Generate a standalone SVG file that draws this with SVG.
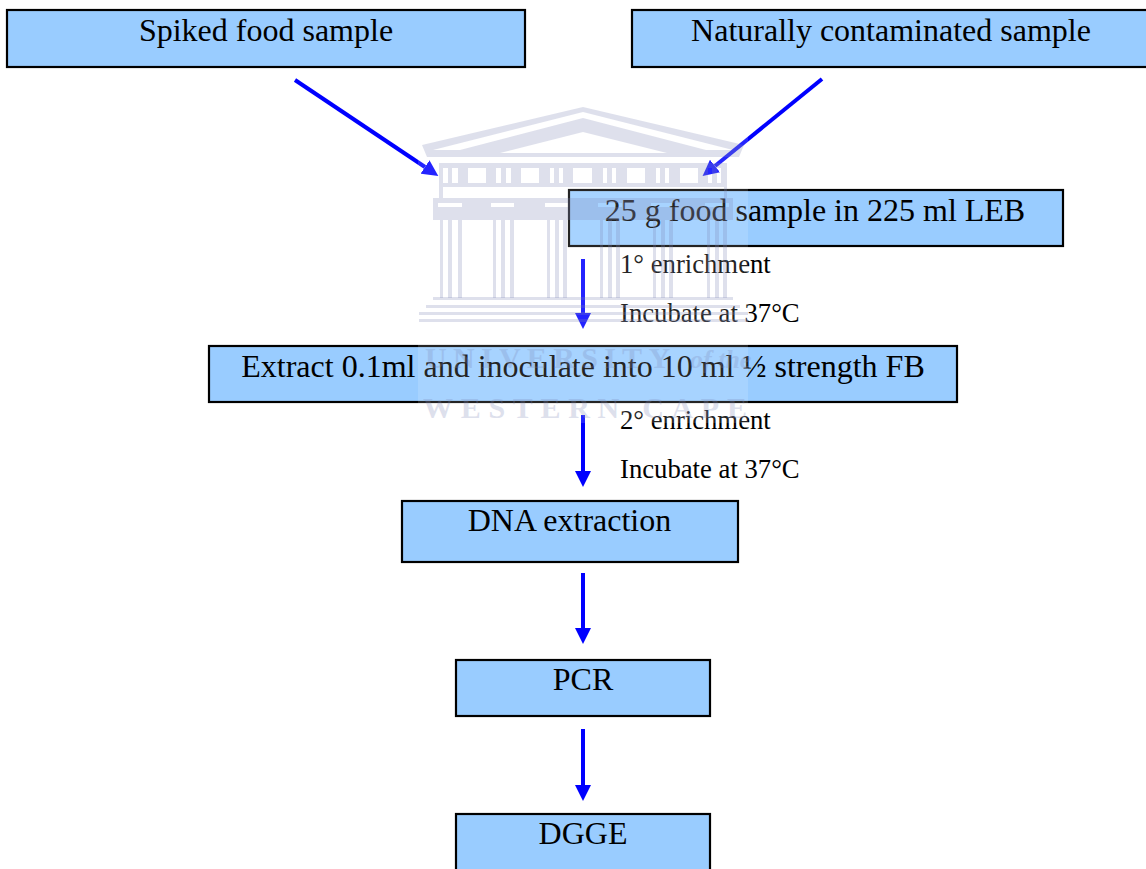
<svg xmlns="http://www.w3.org/2000/svg" width="1146" height="869" viewBox="0 0 1146 869">
<style>
.box{fill:#99ccff;stroke:#000;stroke-width:2.2}
.t{font-family:"Liberation Serif","Times New Roman",serif;font-size:32px;fill:#000;text-anchor:middle}
.s{font-family:"Liberation Serif","Times New Roman",serif;font-size:26.7px;fill:#000}
.c{fill:none;stroke:#0000ff;stroke-width:4;marker-end:url(#a)}
.w{fill:#7b85b5;opacity:.25;fill-rule:evenodd}
.wt{font-family:"Liberation Serif","Times New Roman",serif;font-weight:bold;font-size:30px;fill:#7b85b5;opacity:.25}
</style>
<defs>
<marker id="a" markerUnits="userSpaceOnUse" markerWidth="16" markerHeight="16" refX="0" refY="8" orient="auto" viewBox="0 0 16 16"><path d="M0 0L16 8L0 16Z" fill="#0000ff"/></marker>
</defs>
<rect width="1146" height="869" fill="#fff"/>
<g id="node-spiked"><rect class="box" x="7" y="10" width="518" height="57"/><text class="t" x="266" y="41">Spiked food sample</text></g>
<g id="node-natural"><rect class="box" x="632" y="10" width="516" height="57"/><text class="t" x="891" y="41">Naturally contaminated sample</text></g>
<g id="node-sample"><rect class="box" x="569" y="190" width="494" height="56"/><text class="t" x="815" y="221">25 g food sample in 225 ml LEB</text></g>
<g id="node-extract"><rect class="box" x="209" y="346" width="748" height="56"/><text class="t" x="583" y="377">Extract 0.1ml and inoculate into 10 ml ½ strength FB</text></g>
<g id="node-dna"><rect class="box" x="402" y="501" width="336" height="61"/><text class="t" x="569.5" y="531">DNA extraction</text></g>
<g id="node-pcr"><rect class="box" x="456" y="660" width="254" height="56"/><text class="t" x="583" y="690">PCR</text></g>
<g id="node-dgge"><rect class="box" x="456" y="814" width="254" height="60"/><text class="t" x="583" y="844">DGGE</text></g>
<g id="labels">
<text class="s" x="620" y="273">1° enrichment</text>
<text class="s" x="620" y="322">Incubate at 37°C</text>
<text class="s" x="620" y="429">2° enrichment</text>
<text class="s" x="620" y="478">Incubate at 37°C</text>
</g>
<g id="connectors">
<path class="c" d="M295 80L425 167"/>
<path class="c" d="M822 79L715 166"/>
<path class="c" d="M583 259V313"/>
<path class="c" d="M583 415V471"/>
<path class="c" d="M583 573V628"/>
<path class="c" d="M583 729V785"/>
</g>
<g id="watermark">
<rect x="418" y="105" width="330" height="318" fill="#fff" opacity=".14"/>
<path class="w" d="M583 107L422 145L427 157H739L744 145ZM583 112L433 150H460L583 118L706 150H733ZM583 132L500 153H667Z"/>
<path class="w" d="M439 163H727V198H439ZM443 168h5v15h-5zM452 168h6v15h-6zM468 168h18v15h-18zM496 168h5v15h-5zM506 168h5v15h-5zM521 168h18v15h-18zM550 168h4v15h-4zM559 168h4v15h-4zM573 168h19v15h-19zM603 168h4v15h-4zM612 168h4v15h-4zM627 168h18v15h-18zM656 168h4v15h-4zM665 168h4v15h-4zM680 168h18v15h-18zM708 168h4v15h-4zM717 168h4v15h-4zM443 187H724V198H443Z"/>
<path class="w" d="M433 198H733V220H433ZM438 203h24v4h-24zM491 203h23v4h-23zM545 203h23v4h-23zM598 203h24v4h-24zM651 203h24v4h-24zM705 203h24v4h-24z"/>
<path class="w" d="M440 220h3v78h-3zM448 220h4v78h-4zM458 220h4v78h-4zM493 220h3v78h-3zM501 220h4v78h-4zM510 220h4v78h-4zM547 220h3v78h-3zM555 220h4v78h-4zM563 220h4v78h-4zM600 220h3v78h-3zM608 220h4v78h-4zM616 220h4v78h-4zM653 220h3v78h-3zM661 220h4v78h-4zM669 220h4v78h-4zM707 220h3v78h-3zM715 220h4v78h-4zM723 220h4v78h-4z"/>
<path class="w" d="M433 297H733V300H433ZM426 305H740V308H426ZM419 312H748V315H419ZM419 319H748V322H419Z"/>
<text class="wt" x="425" y="368" letter-spacing="6.3">UNIVERSITY</text>
<text class="wt" x="690" y="368" font-style="italic" font-size="26" style="font-size:26px">of the</text>
<text class="wt" x="423" y="418" letter-spacing="7.7">WESTERN CAPE</text>
</g>
</svg>
